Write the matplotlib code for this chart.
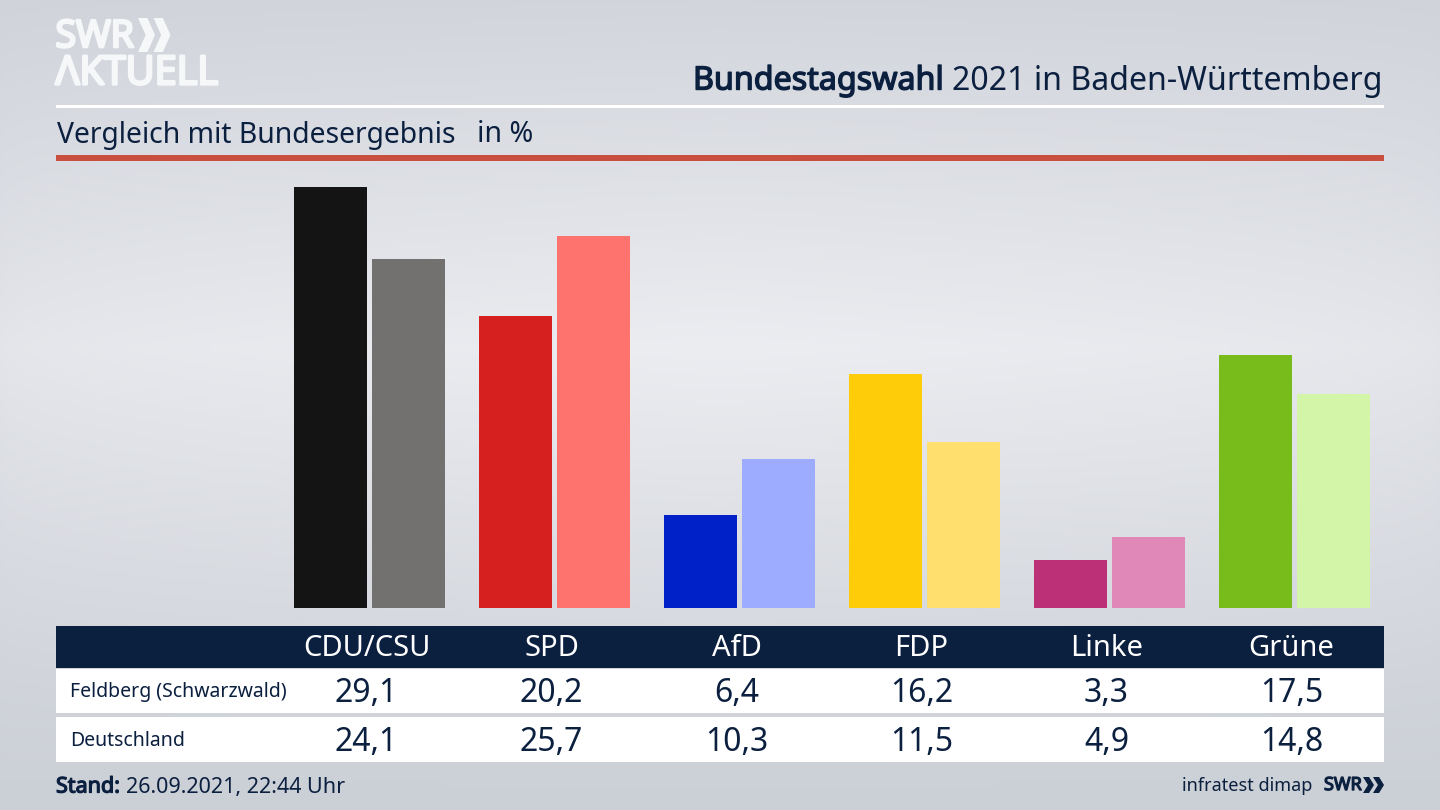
import numpy as np
import matplotlib
matplotlib.use("Agg")
import matplotlib.pyplot as plt
import matplotlib.patheffects as pe
from matplotlib.patches import Rectangle, Polygon

parties = ["CDU/CSU", "SPD", "AfD", "FDP", "Linke", "Grüne"]
feldberg = [29.1, 20.2, 6.4, 16.2, 3.3, 17.5]
deutschland = [24.1, 25.7, 10.3, 11.5, 4.9, 14.8]
colors_local = ["#141414", "#d61f1f", "#0020c8", "#ffcc0a", "#bb3076", "#78bc1b"]
colors_national = ["#72716f", "#ff736f", "#9dacff", "#ffe06e", "#e088b8", "#d3f5a8"]
row_names = ["Feldberg (Schwarzwald)", "Deutschland"]
title_bold = "Bundestagswahl"
title_rest = "2021 in Baden-Württemberg"
subtitle = "Vergleich mit Bundesergebnis"
unit = "in %"
stand_label = "Stand:"
stand_value = "26.09.2021, 22:44 Uhr"

W, H = 1440, 810
NAVY = "#0b1f3f"
LOGO = "#f6f7f8"
plt.rcParams["font.family"] = ["Noto Sans", "DejaVu Sans"]

fig = plt.figure(figsize=(W / 100, H / 100), dpi=100)

# background gradient
bg = fig.add_axes([0, 0, 1, 1], zorder=0)
yy, xx = np.mgrid[0:1:200j, 0:1:356j]
t = np.clip(1 - np.abs(yy - 0.43) / 0.57, 0, 1) ** 1.1
side = np.clip(1 - np.abs(xx - 0.5) / 0.5, 0, 1) ** 0.5
t = t * (0.72 + 0.28 * side)
c0 = np.array([0xcb, 0xcf, 0xd6]) / 255
c1 = np.array([0xec, 0xed, 0xf1]) / 255
bg.imshow(c0 + (c1 - c0) * t[..., None], extent=(0, 1, 0, 1), aspect="auto", origin="upper")
bg.axis("off")

# overlay in pixel units
ov = fig.add_axes([0, 0, 1, 1], zorder=1)
ov.set_xlim(0, W)
ov.set_ylim(H, 0)
ov.axis("off")
ov.patch.set_alpha(0)


def bold(artist, width, color):
    artist.set_path_effects([pe.withStroke(linewidth=width, foreground=color)])
    return artist


# bars
L, R, B, T = 56, 1384, 608, 160
ax = fig.add_axes([L / W, 1 - B / H, (R - L) / W, (B - T) / H], zorder=2)
ax.patch.set_alpha(0)
step, c0x, per_unit = 185.0, 369.3, 14.47
ax.set_xlim((L - c0x) / step, (R - c0x) / step)
ax.set_ylim(0, (B - T) / per_unit)
ax.axis("off")
x = np.arange(len(parties))
w, off = 73 / step, 39 / step
ax.bar(x - off, feldberg, w, color=colors_local, linewidth=0)
ax.bar(x + off, deutschland, w, color=colors_national, linewidth=0)

# header rules
ov.add_patch(Rectangle((56, 104.5), 1328, 3, color="white", lw=0))
ov.add_patch(Rectangle((56, 155), 1328, 5.5, color="#c9503f", lw=0))


def chevrons(x0, y0, h, d, gap, color):
    for k in range(2):
        xs = x0 + k * gap
        ov.add_patch(Polygon([(xs, y0), (xs + d * 0.55, y0), (xs + d, y0 + h / 2), (xs + d * 0.55, y0 + h),
                              (xs, y0 + h), (xs + d * 0.45, y0 + h / 2)], closed=True, color=color, lw=0))


# logo
bold(ov.text(55.5, 37, "SWR", family="Open Sans", fontsize=27, color=LOGO, va="center", ha="left"), 2.0, LOGO)
bold(ov.text(55.5, 74, "ΛKTUELL", family="Open Sans", fontsize=28.6, color=LOGO, va="center", ha="left"), 2.0, LOGO)
chevrons(138, 18, 34, 17, 15.5, LOGO)

# titles
bold(ov.text(693, 81, title_bold, fontsize=23.2, color=NAVY, va="center", ha="left"), 1.0, NAVY)
ov.text(1383, 81, title_rest, fontsize=23.1, color=NAVY, va="center", ha="right")
ov.text(57, 135, subtitle, fontsize=20.4, color=NAVY, va="center", ha="left")
ov.text(477, 135, unit, fontsize=20.6, color=NAVY, va="center", ha="left")

# table
ov.add_patch(Rectangle((56, 626), 1328, 42, color=NAVY, lw=0))
ov.add_patch(Rectangle((56, 669), 1328, 44, color="white", lw=0))
ov.add_patch(Rectangle((56, 717), 1328, 45, color="white", lw=0))
for i, p in enumerate(parties):
    cx = 366.5 + step * i
    ov.text(cx, 649, p, fontsize=21, color="white", va="center", ha="center")
    ov.text(cx, 693.5, f"{feldberg[i]:.1f}".replace(".", ","), fontsize=23, color=NAVY, va="center", ha="center")
    ov.text(cx, 742.5, f"{deutschland[i]:.1f}".replace(".", ","), fontsize=23, color=NAVY, va="center", ha="center")
ov.text(70, 692, row_names[0], fontsize=14, color=NAVY, va="center", ha="left")
ov.text(70, 741, row_names[1], fontsize=14, color=NAVY, va="center", ha="left")

# footer
bold(ov.text(56, 787, stand_label, fontsize=15.5, color=NAVY, va="center", ha="left"), 0.9, NAVY)
ov.text(126, 787, stand_value, fontsize=15.5, color=NAVY, va="center", ha="left")
ov.text(1312, 786, "infratest dimap", fontsize=13, color=NAVY, va="center", ha="right")
bold(ov.text(1324, 785, "SWR", family="Open Sans", fontsize=13, color=NAVY, va="center", ha="left"), 1.0, NAVY)
chevrons(1363, 777, 16, 11, 10, NAVY)

fig.savefig("out.png", dpi=100)
